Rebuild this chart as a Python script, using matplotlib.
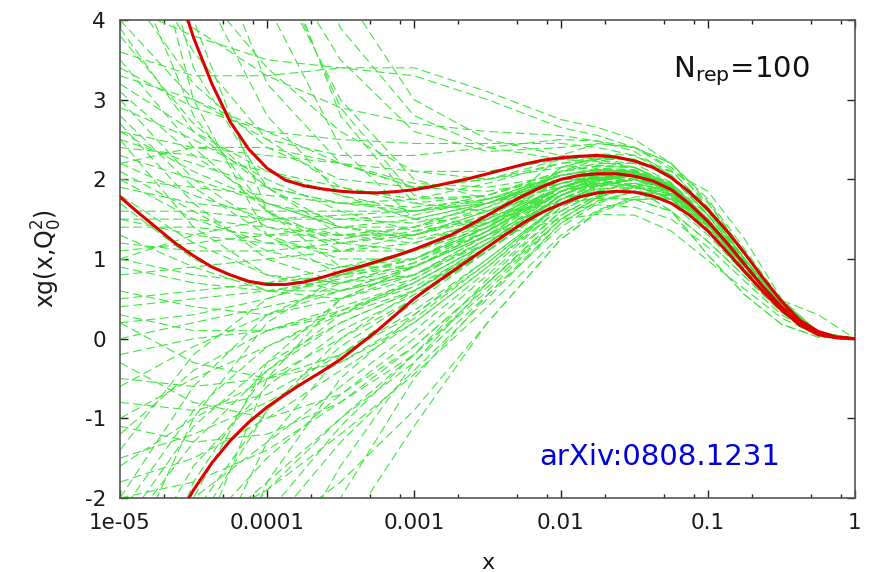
import numpy as np
import matplotlib
matplotlib.use("Agg")
import matplotlib.pyplot as plt
from matplotlib.ticker import FixedLocator, FixedFormatter, NullFormatter

# ---------------------------------------------------------------------------
# Gluon PDF xg(x, Q0^2): Monte Carlo replicas, mean and one-sigma band
# ---------------------------------------------------------------------------

# log10(x) grid on which each replica is tabulated (x = 1 handled separately)
replica_log10_x = [-5.0, -4.5, -4.0, -3.5, -3.0, -2.5, -2.0, -1.75, -1.5, -1.25,
                   -1.0, -0.75, -0.5, -0.25, 0.0]
xg_at_x_one = 0.0

# replica values at the grid points above (last grid point x=1 is xg_at_x_one)
replicas = [
    [9.0, 5.5, 3.2, 2.2, 1.9, 2.0, 2.2, 2.28, 2.25, 2.05, 1.6, 1.0, 0.43, 0.08],
    [7.5, 4.6, 2.8, 1.8, 1.5, 1.7, 2.05, 2.12, 2.1, 1.9, 1.45, 0.92, 0.40, 0.07],
    [14.0, 9.0, 5.2, 2.8, 1.7, 1.6, 1.85, 1.95, 1.95, 1.75, 1.35, 0.85, 0.37, 0.06],
    [9.0, 7.0, 5.0, 3.5, 2.6, 2.35, 2.4, 2.45, 2.4, 2.2, 1.75, 1.12, 0.48, 0.09],
    [5.2, 3.6, 2.5, 1.9, 1.7, 1.8, 2.1, 2.17, 2.15, 1.95, 1.5, 0.94, 0.40, 0.07],
    [8.5, 4.0, 1.6, 0.9, 0.9, 1.3, 1.75, 1.88, 1.9, 1.78, 1.4, 0.88, 0.38, 0.06],
    [4.8, 3.9, 3.3, 2.9, 2.7, 2.6, 2.55, 2.48, 2.35, 2.05, 1.55, 0.95, 0.40, 0.07],
    [4.2, 3.8, 3.5, 3.4, 3.3, 3.0, 2.65, 2.55, 2.4, 2.12, 1.6, 0.98, 0.42, 0.07],
    [3.6, 3.3, 3.3, 3.4, 3.4, 3.1, 2.75, 2.65, 2.5, 2.2, 1.65, 1.0, 0.42, 0.07],
    [13.0, 8.5, 5.0, 2.9, 1.8, 1.7, 1.95, 2.05, 2.05, 1.9, 1.47, 0.93, 0.40, 0.07],
    [6.8, 3.4, 1.9, 1.3, 1.2, 1.45, 1.9, 2.05, 2.1, 1.95, 1.55, 0.98, 0.42, 0.07],
    [5.6, 4.5, 3.4, 2.6, 2.1, 2.0, 2.15, 2.18, 2.15, 1.93, 1.48, 0.93, 0.40, 0.07],
    [11.0, 7.0, 4.2, 2.4, 1.5, 1.45, 1.8, 1.95, 2.0, 1.85, 1.45, 0.92, 0.40, 0.07],
    [4.5, 3.2, 2.4, 2.0, 1.9, 2.0, 2.25, 2.32, 2.3, 2.1, 1.65, 1.05, 0.45, 0.08],
    [16.0, 11.0, 7.0, 4.4, 3.0, 2.5, 2.3, 2.25, 2.15, 1.92, 1.46, 0.91, 0.39, 0.07],
    [5.0, 2.8, 1.6, 1.1, 1.1, 1.4, 1.85, 2.0, 2.05, 1.9, 1.48, 0.93, 0.40, 0.07],
    [15.0, 10.0, 6.0, 3.9, 2.8, 2.4, 2.25, 2.22, 2.15, 1.92, 1.48, 0.93, 0.40, 0.07],
    [4.0, 3.0, 2.5, 2.3, 2.3, 2.4, 2.5, 2.48, 2.4, 2.15, 1.7, 1.08, 0.46, 0.08],
    [3.9, 2.6, 1.9, 1.7, 1.75, 1.95, 2.2, 2.24, 2.2, 1.96, 1.5, 0.94, 0.40, 0.07],
    [6.5, 3.0, 1.3, 0.8, 0.9, 1.3, 1.75, 1.85, 1.85, 1.7, 1.3, 0.82, 0.35, 0.06],
    [12.0, 7.5, 4.8, 3.0, 2.0, 1.75, 1.95, 2.05, 2.1, 1.92, 1.48, 0.93, 0.40, 0.07],
    [3.4, 2.9, 2.6, 2.5, 2.45, 2.45, 2.45, 2.4, 2.3, 2.05, 1.56, 0.96, 0.41, 0.07],
    [2.5, 2.2, 1.9, 1.7, 1.6, 1.7, 2.0, 2.1, 2.1, 1.9, 1.47, 0.93, 0.40, 0.07],
    [2.0, 1.5, 1.2, 1.1, 1.2, 1.5, 2.1, 2.25, 2.25, 2.05, 1.6, 1.0, 0.43, 0.08],
    [3.0, 2.0, 1.4, 1.2, 1.3, 1.6, 2.0, 2.12, 2.12, 1.92, 1.48, 0.93, 0.40, 0.07],
    [1.5, 1.3, 1.2, 1.25, 1.4, 1.7, 1.9, 1.95, 1.92, 1.75, 1.35, 0.86, 0.37, 0.06],
    [2.6, 2.4, 2.3, 2.2, 2.1, 2.1, 2.25, 2.28, 2.25, 2.02, 1.55, 0.96, 0.41, 0.07],
    [1.0, 0.8, 0.7, 0.8, 1.0, 1.4, 1.9, 2.05, 2.1, 1.92, 1.5, 0.95, 0.41, 0.07],
    [2.2, 1.8, 1.5, 1.3, 1.3, 1.55, 2.0, 2.0, 1.9, 1.6, 1.05, 0.55, 0.18, 0.02],
    [3.2, 2.6, 2.1, 1.8, 1.6, 1.7, 2.0, 2.1, 2.1, 1.9, 1.47, 0.93, 0.40, 0.07],
    [0.5, 0.6, 0.7, 0.9, 1.1, 1.5, 2.3, 2.45, 2.4, 2.2, 1.72, 1.08, 0.46, 0.08],
    [1.8, 1.2, 0.8, 0.7, 0.9, 1.3, 1.6, 1.68, 1.65, 1.5, 1.15, 0.72, 0.30, 0.04],
    [2.8, 1.9, 1.3, 1.0, 1.0, 1.35, 1.85, 2.0, 2.05, 1.88, 1.47, 0.93, 0.40, 0.07],
    [1.2, 1.1, 1.1, 1.2, 1.35, 1.65, 2.1, 2.2, 2.2, 2.1, 1.85, 1.25, 0.50, 0.08],
    [2.4, 2.3, 2.1, 1.9, 1.75, 1.8, 2.05, 2.12, 2.1, 1.9, 1.46, 0.92, 0.40, 0.07],
    [0.2, 0.3, 0.5, 0.8, 1.1, 1.55, 1.7, 1.76, 1.75, 1.6, 1.22, 0.78, 0.33, 0.05],
    [3.5, 2.4, 1.6, 1.2, 1.1, 1.4, 1.9, 2.02, 2.05, 1.88, 1.47, 0.93, 0.40, 0.07],
    [1.6, 1.6, 1.5, 1.5, 1.55, 1.75, 2.05, 2.12, 2.1, 1.9, 1.47, 0.93, 0.40, 0.07],
    [2.9, 2.5, 2.0, 1.6, 1.35, 1.5, 1.9, 2.02, 2.05, 1.88, 1.47, 0.93, 0.40, 0.07],
    [0.8, 0.9, 1.0, 1.1, 1.3, 1.6, 1.95, 2.02, 2.0, 1.8, 1.38, 0.90, 0.48, 0.30],
    [2.1, 1.6, 1.1, 0.9, 1.0, 1.4, 1.95, 2.08, 2.1, 1.92, 1.5, 0.94, 0.40, 0.07],
    [3.3, 3.0, 2.6, 2.2, 1.9, 1.85, 2.0, 2.06, 2.05, 1.87, 1.46, 0.92, 0.40, 0.07],
    [1.3, 0.9, 0.6, 0.6, 0.8, 1.25, 1.5, 1.56, 1.55, 1.35, 0.98, 0.62, 0.26, 0.04],
    [2.3, 2.0, 1.7, 1.5, 1.45, 1.65, 2.0, 2.1, 2.1, 1.9, 1.47, 0.93, 0.40, 0.07],
    [0.0, 0.2, 0.4, 0.6, 0.9, 1.35, 2.15, 2.27, 2.25, 2.05, 1.6, 1.0, 0.43, 0.08],
    [1.9, 1.7, 1.6, 1.6, 1.6, 1.8, 2.1, 2.16, 2.15, 1.93, 1.5, 0.94, 0.40, 0.07],
    [2.7, 1.7, 1.0, 0.7, 0.8, 1.2, 1.8, 1.98, 2.05, 1.9, 1.48, 0.93, 0.40, 0.07],
    [0.6, 0.4, 0.3, 0.5, 0.8, 1.3, 1.85, 1.93, 1.92, 1.75, 1.35, 0.86, 0.37, 0.06],
    [1.4, 1.4, 1.3, 1.3, 1.4, 1.7, 2.05, 2.14, 2.12, 1.92, 1.48, 0.93, 0.40, 0.07],
    [2.5, 1.4, 0.8, 0.6, 0.8, 1.3, 1.9, 2.05, 2.1, 1.92, 1.5, 0.94, 0.40, 0.07],
    [3.8, 2.7, 1.9, 1.4, 1.25, 1.45, 1.9, 2.02, 2.05, 1.88, 1.46, 0.92, 0.40, 0.07],
    [1.1, 1.2, 1.3, 1.4, 1.5, 1.7, 2.0, 2.08, 2.08, 1.88, 1.46, 0.92, 0.40, 0.07],
    [0.4, 0.5, 0.6, 0.75, 1.0, 1.45, 2.0, 2.0, 1.9, 1.6, 1.05, 0.55, 0.18, 0.02],
    [2.0, 1.9, 1.8, 1.7, 1.65, 1.75, 2.0, 2.06, 2.05, 1.85, 1.44, 0.91, 0.39, 0.07],
    [1.7, 1.0, 0.6, 0.5, 0.75, 1.25, 1.85, 2.0, 2.05, 1.9, 1.48, 0.93, 0.40, 0.07],
    [2.6, 2.1, 1.7, 1.4, 1.3, 1.5, 1.9, 2.02, 2.05, 1.88, 1.47, 0.93, 0.40, 0.07],
    [0.9, 0.7, 0.6, 0.7, 0.95, 1.4, 2.15, 2.26, 2.25, 2.05, 1.6, 1.0, 0.43, 0.08],
    [3.1, 2.3, 1.7, 1.4, 1.4, 1.6, 2.0, 2.1, 2.1, 1.9, 1.47, 0.93, 0.40, 0.07],
    [1.5, 1.5, 1.4, 1.3, 1.3, 1.55, 1.95, 2.06, 2.08, 1.9, 1.48, 0.93, 0.40, 0.07],
    [2.2, 2.4, 2.4, 2.2, 1.95, 1.9, 2.05, 2.12, 2.1, 1.9, 1.47, 0.93, 0.40, 0.07],
    [0.3, 0.1, 0.1, 0.35, 0.7, 1.2, 1.7, 1.77, 1.75, 1.6, 1.22, 0.78, 0.33, 0.05],
    [1.0, 1.3, 1.5, 1.55, 1.6, 1.75, 2.05, 2.12, 2.1, 1.9, 1.47, 0.93, 0.40, 0.07],
    [-1.0, -0.5, -0.1, 0.3, 0.7, 1.2, 1.8, 1.98, 2.05, 1.9, 1.48, 0.93, 0.40, 0.07],
    [-2.5, -1.3, -0.4, 0.2, 0.6, 1.15, 1.8, 1.98, 2.05, 1.9, 1.48, 0.93, 0.40, 0.07],
    [-4.0, -2.2, -0.9, -0.1, 0.5, 1.1, 1.75, 1.93, 2.0, 1.88, 1.47, 0.93, 0.40, 0.07],
    [-0.5, -0.6, -0.5, -0.2, 0.3, 0.95, 1.7, 1.92, 2.0, 1.87, 1.47, 0.93, 0.40, 0.07],
    [-6.0, -3.2, -1.3, -0.2, 0.45, 1.1, 1.75, 1.93, 2.0, 1.86, 1.46, 0.92, 0.40, 0.07],
    [-1.5, -1.2, -0.8, -0.3, 0.25, 0.95, 1.7, 1.92, 2.0, 1.88, 1.48, 0.93, 0.40, 0.07],
    [-3.0, -1.0, 0.2, 0.8, 1.1, 1.45, 1.9, 2.02, 2.05, 1.88, 1.47, 0.93, 0.40, 0.07],
    [-8.0, -4.2, -1.8, -0.5, 0.3, 1.0, 1.7, 1.92, 2.0, 1.88, 1.48, 0.93, 0.40, 0.07],
    [0.2, -0.3, -0.5, -0.3, 0.2, 0.9, 1.65, 1.87, 1.95, 1.85, 1.46, 0.92, 0.40, 0.07],
    [-2.0, -1.8, -1.4, -0.8, -0.1, 0.7, 1.55, 1.8, 1.9, 1.82, 1.45, 0.92, 0.40, 0.07],
    [-5.0, -2.0, -0.3, 0.5, 0.9, 1.35, 1.85, 2.0, 2.05, 1.9, 1.48, 0.93, 0.40, 0.07],
    [-1.2, -0.4, 0.1, 0.4, 0.7, 1.2, 1.8, 1.98, 2.05, 1.9, 1.5, 0.94, 0.40, 0.07],
    [-3.5, -2.6, -1.8, -1.0, -0.2, 0.65, 1.5, 1.78, 1.9, 1.82, 1.45, 0.92, 0.40, 0.07],
    [-0.2, 0.0, 0.1, 0.3, 0.6, 1.1, 1.75, 1.95, 2.02, 1.88, 1.47, 0.93, 0.40, 0.07],
    [-7.0, -2.8, -0.5, 0.5, 0.9, 1.35, 1.85, 2.0, 2.05, 1.88, 1.47, 0.93, 0.40, 0.07],
    [-2.2, -0.9, -0.1, 0.35, 0.65, 1.15, 1.8, 1.98, 2.05, 1.9, 1.48, 0.93, 0.40, 0.07],
    [-4.5, -3.0, -1.9, -1.0, -0.3, 0.55, 1.45, 1.73, 1.85, 1.8, 1.44, 0.91, 0.39, 0.07],
    [-1.8, -1.5, -1.0, -0.4, 0.2, 0.9, 1.7, 1.92, 2.0, 1.88, 1.48, 0.93, 0.40, 0.07],
    [-2.8, -2.4, -1.9, -1.2, -0.45, 0.4, 1.3, 1.62, 1.75, 1.75, 1.42, 0.90, 0.39, 0.07],
    [-9.0, -6.0, -3.8, -2.0, -0.5, 0.55, 1.4, 1.7, 1.85, 1.8, 1.44, 0.91, 0.39, 0.07],
    [-7.0, -5.0, -3.2, -1.6, -0.3, 0.7, 1.5, 1.78, 1.9, 1.82, 1.45, 0.92, 0.40, 0.07],
    [-0.8, -0.9, -0.7, -0.2, 0.35, 1.0, 1.7, 1.92, 2.0, 1.88, 1.47, 0.93, 0.40, 0.07],
    [-3.2, -1.6, -0.6, 0.1, 0.55, 1.1, 1.75, 1.95, 2.02, 1.88, 1.47, 0.93, 0.40, 0.07],
    [-1.4, -0.2, 0.5, 0.8, 1.0, 1.4, 1.9, 2.04, 2.08, 1.9, 1.48, 0.93, 0.40, 0.07],
    [-5.5, -3.6, -2.2, -1.1, -0.2, 0.75, 1.6, 1.85, 1.95, 1.85, 1.46, 0.92, 0.40, 0.07],
    [-2.6, -2.0, -1.3, -0.6, 0.1, 0.85, 1.65, 1.9, 2.0, 1.88, 1.48, 0.93, 0.40, 0.07],
    [-0.6, -0.1, 0.3, 0.6, 0.9, 1.35, 1.9, 2.04, 2.08, 1.9, 1.48, 0.93, 0.40, 0.07],
    [-4.2, -1.8, -0.4, 0.3, 0.75, 1.25, 1.85, 2.0, 2.05, 1.88, 1.47, 0.93, 0.40, 0.07],
    [-1.6, -1.0, -0.5, 0.0, 0.5, 1.1, 1.8, 1.98, 2.05, 1.9, 1.5, 0.94, 0.40, 0.07],
    [-6.5, -4.0, -2.4, -1.3, -0.4, 0.5, 1.45, 1.72, 1.85, 1.8, 1.44, 0.91, 0.39, 0.07],
    [-2.4, -1.1, -0.3, 0.2, 0.6, 1.15, 1.8, 1.98, 2.05, 1.9, 1.48, 0.93, 0.40, 0.07],
    [-0.3, -0.8, -1.0, -0.7, -0.1, 0.7, 1.55, 1.8, 1.92, 1.84, 1.46, 0.92, 0.40, 0.07],
    [-3.8, -2.5, -1.5, -0.7, 0.0, 0.8, 1.6, 1.85, 1.95, 1.85, 1.46, 0.92, 0.40, 0.07],
    [-1.1, -1.3, -1.2, -0.8, -0.2, 0.6, 1.5, 1.77, 1.9, 1.82, 1.45, 0.92, 0.40, 0.07],
    [-5.0, -2.4, -0.9, 0.0, 0.6, 1.2, 1.85, 2.02, 2.08, 1.9, 1.48, 0.93, 0.40, 0.07],
    [-2.0, -0.6, 0.3, 0.7, 0.95, 1.35, 1.9, 2.04, 2.08, 1.9, 1.48, 0.93, 0.40, 0.07],
    [-10.0, -6.5, -4.2, -2.5, -1.1, 0.2, 1.25, 1.58, 1.75, 1.76, 1.42, 0.90, 0.39, 0.07],
    [-3.0, -2.9, -2.5, -1.8, -0.9, 0.2, 1.25, 1.6, 1.78, 1.78, 1.43, 0.90, 0.39, 0.07],
]

# mean and one-sigma envelope, tabulated every 1/8 decade in x
band_log10_x = [-5.0, -4.875, -4.75, -4.625, -4.5, -4.375, -4.25, -4.125, -4.0,
                -3.875, -3.75, -3.625, -3.5, -3.375, -3.25, -3.125, -3.0,
                -2.875, -2.75, -2.625, -2.5, -2.375, -2.25, -2.125, -2.0,
                -1.875, -1.75, -1.625, -1.5, -1.375, -1.25, -1.125, -1.0,
                -0.875, -0.75, -0.625, -0.5, -0.375, -0.25, -0.125, 0.0]
xg_upper = [7.0, 6.1, 5.3, 4.5, 3.78, 3.2, 2.72, 2.38, 2.14,
            1.99, 1.92, 1.88, 1.85, 1.835, 1.83, 1.845, 1.87,
            1.91, 1.96, 2.01, 2.07, 2.13, 2.19, 2.24, 2.27,
            2.29, 2.30, 2.28, 2.23, 2.15, 2.02, 1.84, 1.62,
            1.36, 1.07, 0.76, 0.47, 0.23, 0.09, 0.02, 0.0]
xg_central = [1.78, 1.58, 1.39, 1.20, 1.04, 0.90, 0.80, 0.72, 0.68,
              0.68, 0.71, 0.77, 0.84, 0.90, 0.97, 1.04, 1.12,
              1.21, 1.30, 1.42, 1.55, 1.68, 1.80, 1.91, 2.00,
              2.05, 2.07, 2.07, 2.04, 1.98, 1.87, 1.69, 1.47,
              1.21, 0.93, 0.65, 0.40, 0.20, 0.07, 0.015, 0.0]
xg_lower = [-4.0, -3.35, -2.8, -2.3, -1.9, -1.56, -1.28, -1.05, -0.86,
            -0.70, -0.55, -0.41, -0.26, -0.08, 0.10, 0.30, 0.50,
            0.67, 0.83, 0.99, 1.15, 1.31, 1.46, 1.59, 1.69,
            1.78, 1.83, 1.85, 1.84, 1.79, 1.70, 1.55, 1.35,
            1.10, 0.84, 0.59, 0.36, 0.17, 0.05, 0.01, 0.0]

major_tick_x = [1e-5, 1e-4, 1e-3, 1e-2, 1e-1, 1.0]
major_tick_x_labels = ["1e-05", "0.0001", "0.001", "0.01", "0.1", "1"]
minor_tick_multipliers = [2, 5, 8]
y_ticks = [-2, -1, 0, 1, 2, 3, 4]

plt.rcParams["font.family"] = ["DejaVu Sans"]

fig = plt.figure(figsize=(8.72, 5.72), dpi=100)
ax = fig.add_axes([120 / 872, 1 - 498 / 572, 735 / 872, 478 / 572])

x_rep = 10.0 ** np.array(replica_log10_x)
for rep in replicas:
    ax.plot(x_rep, list(rep) + [xg_at_x_one], color="#3ee63e", lw=0.8,
            dashes=(8, 4), zorder=2)

x_band = 10.0 ** np.array(band_log10_x)
for curve in (xg_upper, xg_central, xg_lower):
    ax.plot(x_band, curve, color="#dd0000", lw=2.2, zorder=3,
            solid_capstyle="round", solid_joinstyle="round")

ax.set_xscale("log")
ax.set_xlim(1e-5, 1.0)
ax.set_ylim(-2, 4)

ax.xaxis.set_major_locator(FixedLocator(major_tick_x))
ax.xaxis.set_major_formatter(FixedFormatter(major_tick_x_labels))
minor_x = [m * d for d in major_tick_x[:-1] for m in minor_tick_multipliers]
ax.xaxis.set_minor_locator(FixedLocator(minor_x))
ax.xaxis.set_minor_formatter(NullFormatter())
ax.set_yticks(y_ticks)
ax.set_yticklabels([str(v) for v in y_ticks])

ax.tick_params(which="both", direction="in", top=True, right=True,
               colors="#202020", labelcolor="#1a1a1a", labelsize=15.5)
ax.tick_params(which="major", length=6, width=1.0)
ax.tick_params(which="minor", length=3, width=1.0)
ax.tick_params(axis="x", which="major", pad=11)
ax.tick_params(axis="y", which="major", pad=10)
for sp in ax.spines.values():
    sp.set_color("#555555")
    sp.set_linewidth(1.2)

ax.set_xlabel("x", fontsize=16, color="#1a1a1a", labelpad=14)
ax.set_ylabel(r"xg(x,Q$_0^2$)", fontsize=17, color="#1a1a1a", labelpad=15)

ax.text(0.752, 0.881, r"N$_{\mathregular{rep}}$=100", transform=ax.transAxes,
        fontsize=21, color="#111111", ha="left", va="baseline")
ax.text(0.571, 0.069, "arXiv:0808.1231", transform=ax.transAxes,
        fontsize=21, color="#0000dd", ha="left", va="baseline")

fig.savefig("out.png", dpi=100)
